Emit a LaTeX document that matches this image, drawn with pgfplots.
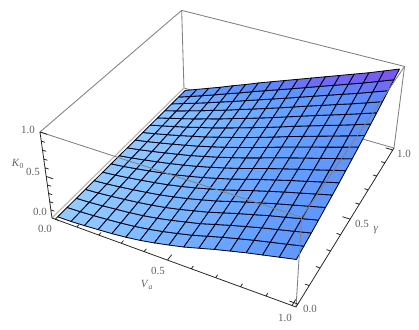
\documentclass[border=0pt]{standalone}
\usepackage{pgfplots}
\usepackage{pgfplotstable}
\usepackage{fontspec}
\setmainfont{Liberation Serif}
\pgfplotsset{compat=1.18}
\pgfplotstableread[row sep=\\]{
v g k\\
0 0 0\\0 1 0\\0 2 0\\0 3 0\\0 4 0\\0 5 0\\0 6 0\\0 7 0\\0 8 0\\0 9 0\\0 10 0\\0 11 0\\0 12 0\\0 13 0\\0 14 0\\0 15 0\\0 16 0\\
1 0 .003\\1 1 .006\\1 2 .008\\1 3 .011\\1 4 .014\\1 5 .017\\1 6 .020\\1 7 .024\\1 8 .027\\1 9 .031\\1 10 .035\\1 11 .039\\1 12 .043\\1 13 .047\\1 14 .051\\1 15 .055\\1 16 .060\\
2 0 .012\\2 1 .017\\2 2 .022\\2 3 .027\\2 4 .033\\2 5 .039\\2 6 .045\\2 7 .052\\2 8 .058\\2 9 .065\\2 10 .072\\2 11 .080\\2 12 .087\\2 13 .095\\2 14 .103\\2 15 .111\\2 16 .120\\
3 0 .024\\3 1 .031\\3 2 .039\\3 3 .046\\3 4 .054\\3 5 .063\\3 6 .072\\3 7 .081\\3 8 .091\\3 9 .101\\3 10 .111\\3 11 .122\\3 12 .132\\3 13 .144\\3 14 .156\\3 15 .168\\3 16 .180\\
4 0 .037\\4 1 .046\\4 2 .056\\4 3 .067\\4 4 .078\\4 5 .089\\4 6 .101\\4 7 .113\\4 8 .126\\4 9 .139\\4 10 .153\\4 11 .167\\4 12 .182\\4 13 .197\\4 14 .212\\4 15 .228\\4 16 .245\\
5 0 .055\\5 1 .066\\5 2 .078\\5 3 .091\\5 4 .104\\5 5 .118\\5 6 .132\\5 7 .147\\5 8 .162\\5 9 .178\\5 10 .194\\5 11 .211\\5 12 .229\\5 13 .247\\5 14 .266\\5 15 .285\\5 16 .305\\
6 0 .080\\6 1 .093\\6 2 .107\\6 3 .121\\6 4 .137\\6 5 .153\\6 6 .169\\6 7 .186\\6 8 .204\\6 9 .222\\6 10 .242\\6 11 .261\\6 12 .282\\6 13 .303\\6 14 .324\\6 15 .347\\6 16 .370\\
7 0 .112\\7 1 .126\\7 2 .142\\7 3 .157\\7 4 .174\\7 5 .192\\7 6 .210\\7 7 .228\\7 8 .248\\7 9 .268\\7 10 .289\\7 11 .311\\7 12 .333\\7 13 .356\\7 14 .380\\7 15 .405\\7 16 .430\\
8 0 .150\\8 1 .165\\8 2 .182\\8 3 .199\\8 4 .216\\8 5 .235\\8 6 .254\\8 7 .274\\8 8 .295\\8 9 .317\\8 10 .339\\8 11 .363\\8 12 .386\\8 13 .411\\8 14 .437\\8 15 .463\\8 16 .490\\
9 0 .190\\9 1 .206\\9 2 .223\\9 3 .241\\9 4 .260\\9 5 .280\\9 6 .301\\9 7 .322\\9 8 .344\\9 9 .367\\9 10 .391\\9 11 .415\\9 12 .440\\9 13 .466\\9 14 .493\\9 15 .521\\9 16 .550\\
10 0 .240\\10 1 .257\\10 2 .274\\10 3 .293\\10 4 .312\\10 5 .333\\10 6 .354\\10 7 .375\\10 8 .398\\10 9 .422\\10 10 .446\\10 11 .471\\10 12 .497\\10 13 .524\\10 14 .552\\10 15 .580\\10 16 .610\\
11 0 .290\\11 1 .307\\11 2 .325\\11 3 .344\\11 4 .364\\11 5 .385\\11 6 .407\\11 7 .429\\11 8 .452\\11 9 .477\\11 10 .502\\11 11 .528\\11 12 .554\\11 13 .582\\11 14 .610\\11 15 .640\\11 16 .670\\
12 0 .335\\12 1 .353\\12 2 .372\\12 3 .391\\12 4 .412\\12 5 .434\\12 6 .456\\12 7 .480\\12 8 .504\\12 9 .529\\12 10 .555\\12 11 .582\\12 12 .610\\12 13 .638\\12 14 .668\\12 15 .698\\12 16 .730\\
13 0 .380\\13 1 .398\\13 2 .418\\13 3 .439\\13 4 .460\\13 5 .483\\13 6 .506\\13 7 .530\\13 8 .555\\13 9 .581\\13 10 .608\\13 11 .636\\13 12 .665\\13 13 .695\\13 14 .726\\13 15 .757\\13 16 .790\\
14 0 .420\\14 1 .439\\14 2 .460\\14 3 .481\\14 4 .504\\14 5 .528\\14 6 .552\\14 7 .577\\14 8 .604\\14 9 .631\\14 10 .660\\14 11 .689\\14 12 .719\\14 13 .750\\14 14 .782\\14 15 .816\\14 16 .850\\
15 0 .460\\15 1 .480\\15 2 .502\\15 3 .525\\15 4 .549\\15 5 .574\\15 6 .600\\15 7 .627\\15 8 .654\\15 9 .683\\15 10 .713\\15 11 .744\\15 12 .776\\15 13 .809\\15 14 .844\\15 15 .879\\15 16 .915\\
16 0 .500\\16 1 .522\\16 2 .545\\16 3 .569\\16 4 .594\\16 5 .620\\16 6 .647\\16 7 .676\\16 8 .705\\16 9 .736\\16 10 .767\\16 11 .800\\16 12 .834\\16 13 .869\\16 14 .905\\16 15 .942\\16 16 .980\\
}\surface
% perspective projection of the box (v, g in sixteenths, k in 0..1) to picture pixels
\newcommand\VV{(0.015+0.060625*\thisrow{v})}
\newcommand\GG{(0.015+0.060625*\thisrow{g})}
\newcommand\WW{(1-0.1031*\VV+0.21*\GG-0.065*\thisrow{k})}
\newcommand\PX{(52+213.5*\VV+170.6*\GG-14.6*\thisrow{k})/\WW}
\newcommand\PY{330-(218+57.35*\VV-111.5*\GG-94.6*\thisrow{k})/\WW}
\newcommand\lab[3]{\node[text=black!62,font=\fontsize{11}{12}\selectfont,inner sep=0pt] at (axis cs:#1,330-#2,0) {#3};}
\begin{document}
\begin{tikzpicture}
\begin{axis}[
  view={0}{90}, hide axis, scale only axis,
  width=419bp, height=330bp,
  xmin=0, xmax=419, ymin=0, ymax=330, zmin=-1, zmax=1,
  clip=false,
  colormap={kk}{rgb255=(150,205,255) rgb255=(125,185,255) rgb255=(100,160,255) rgb255=(92,140,250) rgb255=(125,85,240)},
  point meta min=0, point meta max=1,
  line join=round,
]
\path (axis cs:0,0,0) -- (axis cs:419,330,0);
% box edges behind the surface
\addplot3[color=black!50,line width=0.85pt] table[x expr=\PX,y expr=\PY,z expr=0,row sep=\\]{
v g k\\
-.248 16.248 0\\
16.248 16.248 0\\
};
% surface
\addplot3[surf,shader=faceted,faceted color=black!90!blue,line width=0.85pt,mesh/rows=17,mesh/cols=17,point meta=explicit]
  table[x expr=\PX,y expr=\PY,z expr=0,
        meta expr={0.62*\thisrow{v}/16+0.08*\thisrow{g}/16+0.55*(\thisrow{g}/16)^10}] {\surface};
% box edges
\addplot3[color=black!28,line width=1.2pt] table[x expr=\PX,y expr=\PY,z expr=0,row sep=\\]{
v g k\\
-.248 -.248 0\\
-.248 16.248 0\\
};
\addplot3[color=black!50,line width=0.85pt] table[x expr=\PX,y expr=\PY,z expr=0,row sep=\\]{
v g k\\
-.248 16.248 0\\
-.248 16.248 1\\
-.248 -.248 1\\
16.248 -.248 1\\
16.248 -.248 0\\
};
\addplot3[color=black!50,line width=0.85pt] table[x expr=\PX,y expr=\PY,z expr=0,row sep=\\]{
v g k\\
-.248 16.248 1\\
16.248 16.248 1\\
16.248 -.248 1\\
};
\addplot3[color=black!50,line width=0.85pt] table[x expr=\PX,y expr=\PY,z expr=0,row sep=\\]{
v g k\\
16.248 16.248 1\\
16.248 16.248 0\\
};
% V axis with ticks
\addplot3[black!85,line width=0.8pt] table[x expr=\PX,y expr=\PY,z expr=0,row sep=\\]{
v g k\\
0 -.248 0\\0 .25 0\\0 -.248 0\\
1.6 -.248 0\\1.6 0 0\\1.6 -.248 0\\
3.2 -.248 0\\3.2 0 0\\3.2 -.248 0\\
4.8 -.248 0\\4.8 0 0\\4.8 -.248 0\\
6.4 -.248 0\\6.4 0 0\\6.4 -.248 0\\
8 -.248 0\\8 .25 0\\8 -.248 0\\
9.6 -.248 0\\9.6 0 0\\9.6 -.248 0\\
11.2 -.248 0\\11.2 0 0\\11.2 -.248 0\\
12.8 -.248 0\\12.8 0 0\\12.8 -.248 0\\
14.4 -.248 0\\14.4 0 0\\14.4 -.248 0\\
16 -.248 0\\16 .25 0\\16 -.248 0\\
16.248 -.248 0\\
};
% gamma axis with ticks
\addplot3[black!85,line width=0.8pt] table[x expr=\PX,y expr=\PY,z expr=0,row sep=\\]{
v g k\\
16.248 -.248 0\\
16.248 0 0\\15.75 0 0\\16.248 0 0\\
16.248 1.6 0\\16 1.6 0\\16.248 1.6 0\\
16.248 3.2 0\\16 3.2 0\\16.248 3.2 0\\
16.248 4.8 0\\16 4.8 0\\16.248 4.8 0\\
16.248 6.4 0\\16 6.4 0\\16.248 6.4 0\\
16.248 8 0\\15.75 8 0\\16.248 8 0\\
16.248 9.6 0\\16 9.6 0\\16.248 9.6 0\\
16.248 11.2 0\\16 11.2 0\\16.248 11.2 0\\
16.248 12.8 0\\16 12.8 0\\16.248 12.8 0\\
16.248 14.4 0\\16 14.4 0\\16.248 14.4 0\\
16.248 16 0\\15.75 16 0\\16.248 16 0\\
16.248 16.248 0\\
};
% K axis with ticks
\addplot3[black!85,line width=0.8pt] table[x expr=\PX,y expr=\PY,z expr=0,row sep=\\]{
v g k\\
-.248 -.248 0\\.25 -.248 0\\-.248 -.248 0\\
-.248 -.248 .1\\0 -.248 .1\\-.248 -.248 .1\\
-.248 -.248 .2\\0 -.248 .2\\-.248 -.248 .2\\
-.248 -.248 .3\\0 -.248 .3\\-.248 -.248 .3\\
-.248 -.248 .4\\0 -.248 .4\\-.248 -.248 .4\\
-.248 -.248 .5\\.25 -.248 .5\\-.248 -.248 .5\\
-.248 -.248 .6\\0 -.248 .6\\-.248 -.248 .6\\
-.248 -.248 .7\\0 -.248 .7\\-.248 -.248 .7\\
-.248 -.248 .8\\0 -.248 .8\\-.248 -.248 .8\\
-.248 -.248 .9\\0 -.248 .9\\-.248 -.248 .9\\
-.248 -.248 1\\.25 -.248 1\\-.248 -.248 1\\
};
\lab{28}{130}{1.0}
\lab{33}{172}{0.5}
\lab{40}{212}{0.0}
\lab{45}{229}{0.0}
\lab{158}{271}{0.5}
\lab{285}{318}{1.0}
\lab{310}{309}{0.0}
\lab{362}{224}{0.5}
\lab{404}{154}{1.0}
\lab{18}{164}{\textit{K}\textsubscript{0}}
\lab{147}{285}{\textit{V}\textsubscript{\textit{a}}}
\lab{376}{230}{\textit{γ}}
\end{axis}
\end{tikzpicture}
\end{document}
